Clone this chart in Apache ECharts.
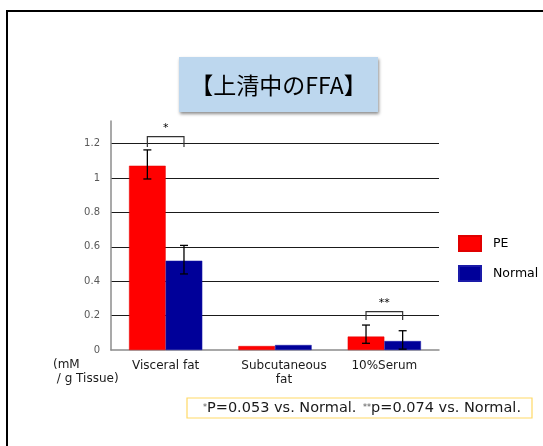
<!DOCTYPE html>
<html>
<head>
<meta charset="utf-8">
<script src="https://cdn.jsdelivr.net/npm/echarts@6/dist/echarts.min.js"></script>
<style>html,body{margin:0;padding:0;background:#fff}#c{width:543px;height:446px}</style>
</head>
<body>
<div id="c"></div>
<script>
var categories = ['Visceral fat', 'Subcutaneous\nfat', '10%Serum'];
var seriesNames = ['PE', 'Normal'];
var peValues = [1.071, 0.023, 0.078];
var normalValues = [0.519, 0.029, 0.052];
var peErrHigh = [1.163, 0.023, 0.145];
var peErrLow = [0.994, 0.023, 0.039];
var normalErrHigh = [0.608, 0.029, 0.112];
var normalErrLow = [0.442, 0.029, 0.005];
var hasErr = [true, false, true];
// significance brackets: [category index, top value, leg bottom value, label]
var brackets = [[0, 1.24, 1.18, '*'], [2, 0.223, 0.174, '**']];
var yTicks = [0, 0.2, 0.4, 0.6, 0.8, 1, 1.2];
var titleText = '【上清中のFFA】';
var unitText = '(mM\n / g Tissue)';

var chart = echarts.init(document.getElementById('c'), null, {renderer: 'canvas'});
var catGap = 0.33;

function errData(high, low) {
  var d = [];
  for (var i = 0; i < categories.length; i++) if (hasErr[i]) d.push([i, high[i], low[i]]);
  return d;
}
function errRender(side) {
  return function (params, api) {
    var ci = api.value(0);
    var hi = api.coord([ci, api.value(1)]);
    var lo = api.coord([ci, api.value(2)]);
    var bw = api.size([1, 0])[0] * (1 - catGap) / 2;
    var x = hi[0] + side * bw / 2;
    var cap = 4;
    var st = {stroke: '#000', lineWidth: 1.3};
    return {type: 'group', children: [
      {type: 'line', shape: {x1: x, y1: hi[1], x2: x, y2: lo[1]}, style: st},
      {type: 'line', shape: {x1: x - cap, y1: hi[1], x2: x + cap, y2: hi[1]}, style: st},
      {type: 'line', shape: {x1: x - cap, y1: lo[1], x2: x + cap, y2: lo[1]}, style: st}
    ]};
  };
}

var option = {
  animation: false,
  backgroundColor: '#fff',
  grid: {left: 111, right: 104, top: 121, bottom: 96},
  legend: {
    orient: 'vertical', left: 458, top: 235, padding: 0,
    itemWidth: 22, itemHeight: 15, itemGap: 13,
    icon: 'rect',
    textStyle: {fontFamily: 'DejaVu Sans', fontSize: 12.5, color: '#000', padding: [0, 0, 0, 7]},
    data: seriesNames
  },
  xAxis: {
    type: 'category', data: categories,
    axisLine: {lineStyle: {color: '#8c8c8c', width: 1.5}},
    axisTick: {show: false},
    axisLabel: {
      interval: 0, margin: 9, fontFamily: 'DejaVu Sans', fontSize: 12, color: '#1a1a1a', lineHeight: 14,
      formatter: function (v) { return v.indexOf('\n') >= 0 ? '{s|' + v.split('\n').join('}\n{s|') + '}' : v; },
      rich: {s: {padding: [0, 0, 0, 18], fontFamily: 'DejaVu Sans', fontSize: 12, color: '#1a1a1a', lineHeight: 14}}
    }
  },
  yAxis: {
    type: 'value', min: 0, max: 1.331, interval: 0.2,
    axisLine: {show: true, lineStyle: {color: '#8c8c8c', width: 1.5}},
    axisTick: {show: false},
    axisLabel: {
      margin: 11, fontFamily: 'DejaVu Sans', fontSize: 10, color: '#595959', showMaxLabel: false,
      formatter: function (v) {
        for (var i = 0; i < yTicks.length; i++) if (Math.abs(yTicks[i] - v) < 1e-6) return String(yTicks[i]);
        return '';
      }
    },
    splitLine: {show: true, showMinLine: false, showMaxLine: false, lineStyle: {color: '#1a1a1a', width: 1}}
  },
  series: [
    {name: 'PE', type: 'bar', data: peValues, barGap: '0%', barCategoryGap: '33%',
     itemStyle: {color: '#ff0000', borderColor: '#e00000', borderWidth: 0.5}},
    {name: 'Normal', type: 'bar', data: normalValues,
     itemStyle: {color: '#000099', borderColor: '#1a1aa8', borderWidth: 0.5}},
    {type: 'custom', data: errData(peErrHigh, peErrLow), renderItem: errRender(-1), z: 5, silent: true},
    {type: 'custom', data: errData(normalErrHigh, normalErrLow), renderItem: errRender(1), z: 5, silent: true},
    {type: 'custom', data: brackets, z: 5, silent: true,
     renderItem: function (params, api) {
       var ci = api.value(0);
       var top = api.coord([ci, api.value(1)]);
       var bot = api.coord([ci, api.value(2)]);
       var bw = api.size([1, 0])[0] * (1 - catGap) / 2;
       var x1 = top[0] - bw / 2, x2 = top[0] + bw / 2;
       var st = {stroke: '#333', lineWidth: 1.2};
       return {type: 'group', children: [
         {type: 'polyline', shape: {points: [[x1, bot[1]], [x1, top[1]], [x2, top[1]], [x2, bot[1]]]}, style: Object.assign({fill: null}, st)},
         {type: 'text', style: {text: brackets[params.dataIndex][3], x: top[0], y: top[1] - 3, align: 'center', verticalAlign: 'bottom', fontSize: 11, fontFamily: 'DejaVu Sans', fill: '#000'}}
       ]};
     }}
  ],
  graphic: [
    {type: 'line', shape: {x1: 7, y1: 11, x2: 7, y2: 446}, style: {stroke: '#000', lineWidth: 2}},
    {type: 'line', shape: {x1: 6, y1: 11, x2: 543, y2: 11}, style: {stroke: '#000', lineWidth: 2}},
    {type: 'rect', shape: {x: 179, y: 57, width: 199, height: 55},
     style: {fill: '#bdd7ee', shadowBlur: 3, shadowColor: 'rgba(0,0,0,0.45)', shadowOffsetY: 2, shadowOffsetX: 1}},
    {type: 'text', style: {text: titleText, x: 278.5, y: 85, align: 'center', verticalAlign: 'middle', fontSize: 23, fontFamily: 'Noto Sans CJK JP', fill: '#000'}},
    {type: 'text', style: {text: unitText, x: 53, y: 358, fontSize: 12, lineHeight: 14, fontFamily: 'DejaVu Sans', fill: '#1a1a1a'}},
    {type: 'rect', shape: {x: 187, y: 398, width: 345, height: 20}, style: {fill: '#fff', stroke: '#ffd966', lineWidth: 1.2}},
    {type: 'text', style: {
      text: '{a|*}{b|P=0.053 vs. Normal.}  {a|**}{b|p=0.074 vs. Normal.}',
      x: 203, y: 408, verticalAlign: 'middle',
      rich: {a: {fontSize: 8, fill: '#555', fontFamily: 'DejaVu Sans'}, b: {fontSize: 14.5, fill: '#1a1a1a', fontFamily: 'DejaVu Sans'}}
    }}
  ]
};
chart.setOption(option);
</script>
</body>
</html>
